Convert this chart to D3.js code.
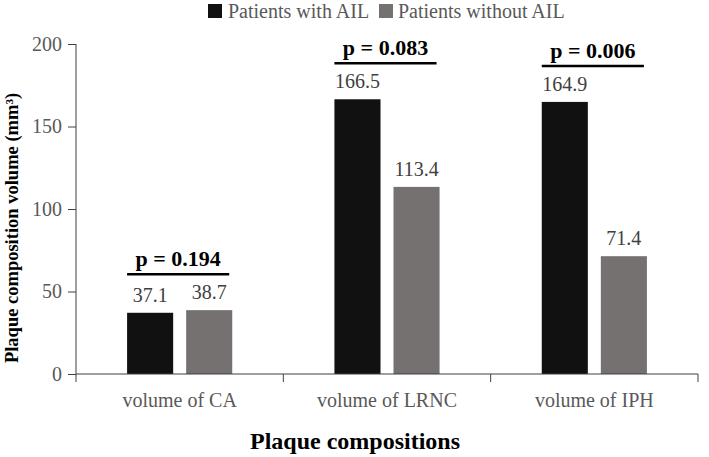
<!DOCTYPE html>
<html>
<head>
<meta charset="utf-8">
<script src="https://cdn.jsdelivr.net/npm/d3@7"></script>
<style>
  body { margin: 0; background: #fff; }
</style>
</head>
<body>
<svg id="chart" width="709" height="457"></svg>
<script>
const categories = ["volume of CA", "volume of LRNC", "volume of IPH"];
const seriesNames = ["Patients with AIL", "Patients without AIL"];
const withAIL = [37.1, 166.5, 164.9];
const withoutAIL = [38.7, 113.4, 71.4];
const pValues = ["p = 0.194", "p = 0.083", "p = 0.006"];
const yTicks = [0, 50, 100, 150, 200];
const colors = ["#111111", "#767171"];
const FONT = "Liberation Serif";

const svg = d3.select("#chart");
const margin = { left: 76, right: 11, top: 44, bottom: 83 };
const W = 709, H = 457;
const x0 = margin.left, x1 = W - margin.right;
const yTop = margin.top, yBot = H - margin.bottom;

const x = d3.scaleBand().domain(categories).range([x0, x1]).paddingInner(0).paddingOuter(0);
const y = d3.scaleLinear().domain([0, 200]).range([yBot, yTop]);
const xs = d3.scaleBand().domain(seriesNames).range([0, x.bandwidth()]).paddingInner(0.22).paddingOuter(0.865);

const data = categories.map((c, i) => ({ cat: c, vals: [withAIL[i], withoutAIL[i]], p: pValues[i] }));

function txt(sel) { return sel.attr("font-family", FONT).style("font-family", FONT); }

// bars
const g = svg.append("g");
data.forEach(d => {
  d.vals.forEach((v, j) => {
    g.append("rect")
      .attr("x", x(d.cat) + xs(seriesNames[j]))
      .attr("y", y(v))
      .attr("width", xs.bandwidth())
      .attr("height", y(0) - y(v))
      .attr("fill", colors[j]);
    txt(g.append("text"))
      .attr("x", x(d.cat) + xs(seriesNames[j]) + xs.bandwidth() / 2)
      .attr("y", y(v) - 11)
      .attr("text-anchor", "middle")
      .attr("font-size", 20)
      .attr("fill", "#404040")
      .text(v.toFixed(1));
  });
  const top = y(d3.max(d.vals)) - 36;
  const lx1 = x(d.cat) + xs(seriesNames[0]);
  const lx2 = x(d.cat) + xs(seriesNames[1]) + xs.bandwidth() - 3;
  g.append("line")
    .attr("x1", lx1).attr("x2", lx2)
    .attr("y1", top).attr("y2", top)
    .attr("stroke", "#000").attr("stroke-width", 2.5);
  txt(g.append("text"))
    .attr("x", (lx1 + lx2) / 2)
    .attr("y", top - 8)
    .attr("text-anchor", "middle")
    .attr("font-size", 22)
    .attr("font-weight", "bold")
    .attr("fill", "#000")
    .text(d.p);
});

// y axis
const yAxis = d3.axisLeft(y).tickValues(yTicks).tickSize(8).tickPadding(6);
const ya = svg.append("g").attr("transform", `translate(${x0},0)`).call(yAxis);
ya.attr("font-family", FONT);
ya.select(".domain").attr("stroke", "#404040").attr("d", `M0,${yTop}V${yBot}`);
ya.selectAll(".tick line").attr("stroke", "#404040");
txt(ya.selectAll(".tick text")).attr("font-size", 20).attr("fill", "#595959");

// x axis
const xa = svg.append("g").attr("transform", `translate(0,${yBot})`);
xa.append("line").attr("x1", x0).attr("x2", x1).attr("y1", 0).attr("y2", 0).attr("stroke", "#404040");
const bounds = categories.map(c => x(c)).concat([x1]);
xa.selectAll(".sep").data(bounds).enter().append("line")
  .attr("x1", d => d).attr("x2", d => d).attr("y1", 0).attr("y2", 8).attr("stroke", "#404040");
txt(xa.selectAll(".cl").data(categories).enter().append("text"))
  .attr("x", d => x(d) + x.bandwidth() / 2)
  .attr("y", 33)
  .attr("text-anchor", "middle")
  .attr("font-size", 20)
  .attr("fill", "#595959")
  .text(d => d);

// axis titles
txt(svg.append("text"))
  .attr("x", 355).attr("y", 449)
  .attr("text-anchor", "middle")
  .attr("font-size", 24).attr("font-weight", "bold").attr("fill", "#000")
  .text("Plaque compositions");
txt(svg.append("text"))
  .attr("transform", "translate(18,228) rotate(-90)")
  .attr("text-anchor", "middle")
  .attr("font-size", 18.5).attr("font-weight", "bold").attr("fill", "#000")
  .text("Plaque composition volume (mm³)");

// legend
const leg = svg.append("g");
const legItems = [{ name: seriesNames[0], sx: 208, tx: 228 }, { name: seriesNames[1], sx: 379, tx: 398 }];
legItems.forEach((it, j) => {
  leg.append("rect").attr("x", it.sx).attr("y", 4).attr("width", 14).attr("height", 14).attr("fill", colors[j]);
  txt(leg.append("text")).attr("x", it.tx).attr("y", 18).attr("font-size", 20).attr("fill", "#595959").text(it.name);
});
</script>
</body>
</html>
